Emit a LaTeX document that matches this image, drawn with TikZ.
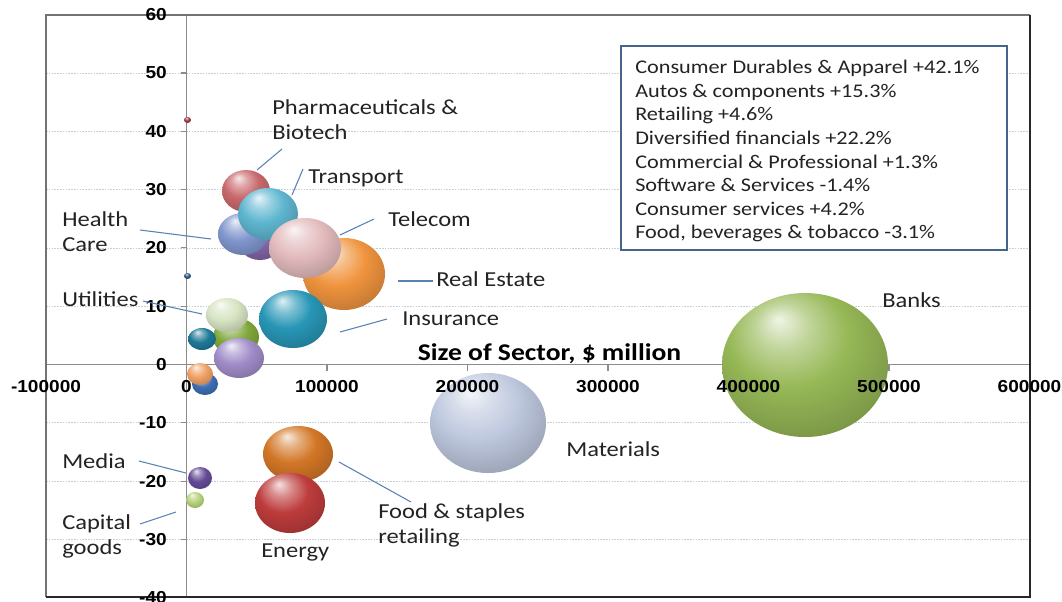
\documentclass[tikz,border=0pt]{standalone}
\usepackage{fontspec}
\usetikzlibrary{shapes.geometric}
\newfontfamily\labfont[FakeStretch=1.15]{Carlito}
\newfontfamily\tickfont[FakeStretch=1.1]{Liberation Sans}
\definecolor{cPharma}{RGB}{200,105,108}
\definecolor{cTransport}{RGB}{95,182,208}
\definecolor{cHealth}{RGB}{128,150,205}
\definecolor{cPurple}{RGB}{128,100,165}
\definecolor{cTelecom}{RGB}{226,186,188}
\definecolor{cReal}{RGB}{240,148,62}
\definecolor{cIns}{RGB}{40,150,182}
\definecolor{cUtil}{RGB}{215,228,195}
\definecolor{cGreen}{RGB}{128,168,58}
\definecolor{cTeal}{RGB}{30,120,150}
\definecolor{cLav}{RGB}{160,140,200}
\definecolor{cOrSm}{RGB}{240,160,100}
\definecolor{cBlSm}{RGB}{60,110,180}
\definecolor{cDotB}{RGB}{40,80,130}
\definecolor{cDotR}{RGB}{150,50,60}
\definecolor{cMedia}{RGB}{100,75,150}
\definecolor{cCap}{RGB}{182,210,122}
\definecolor{cFood}{RGB}{210,118,38}
\definecolor{cEnergy}{RGB}{190,60,60}
\definecolor{cMat}{RGB}{190,200,222}
\definecolor{cBanks}{RGB}{150,184,86}
\definecolor{leader}{RGB}{90,130,180}
\definecolor{legframe}{RGB}{70,100,140}
\definecolor{txt}{RGB}{35,35,35}
\makeatletter
\pgfdeclareradialshading[tikz@ball]{bubble}{\pgfpoint{-8bp}{16bp}}{%
 color(0bp)=(tikz@ball!15!white);
 color(8bp)=(tikz@ball!60!white);
 color(18bp)=(tikz@ball);
 color(32bp)=(tikz@ball!82!black);
 color(44bp)=(tikz@ball!58!black);
 color(50bp)=(tikz@ball!45!black)}
\makeatother
\tikzset{
 bub/.style n args={3}{ellipse, inner sep=0pt, ball color=#1, shading=bubble,
   minimum width=#2*1.5pt, minimum height=#3*1.5pt},
 lab/.style={anchor=north west, inner sep=0pt, align=left, text=txt,
   font=\labfont\fontsize{16}{19.1}\selectfont},
 tick/.style={inner sep=0pt, font=\tickfont\bfseries\fontsize{13}{15}\selectfont},
 lead/.style={draw=leader, line width=0.8pt},
 grid/.style={draw={rgb,255:red,200;green,204;blue,214}, line width=0.6pt, dash pattern=on 1.2pt off 0.9pt},
 axisline/.style={draw={rgb,255:red,140;green,140;blue,140}, line width=0.8pt},
}
\begin{document}
\begin{tikzpicture}[x=0.75pt,y=-0.75pt]
\useasboundingbox (0,0) rectangle (1062,601);
\fill[white] (0,0) rectangle (1062,601);
% grid
\foreach \v in {50,40,30,20,10,-10,-20,-30}
  \draw[grid] (46,{364.5-5.83*\v}) -- (1030,{364.5-5.83*\v});
% axes
\draw[axisline] (186.5,15) -- (186.5,597);
\draw[axisline] (46,364.5) -- (1030,364.5);
\foreach \v in {60,50,...,-40}
  \draw[axisline] (180.5,{364.5-5.83*\v}) -- (186.5,{364.5-5.83*\v});
\foreach \v in {-1,0,...,6}
  \draw[axisline] ({186.5+140.5*\v},364.5) -- ({186.5+140.5*\v},370.5);
% frame
\draw[line width=1.5pt, draw={rgb,255:red,115;green,115;blue,115}] (46,597) -- (46,15) -- (1030,15);
\draw[line width=1.2pt, draw={rgb,255:red,40;green,40;blue,40}] (1030,15) -- (1030,597) -- (46,597);
% bubbles
\node[bub={cBanks}{83}{72}] (banks) at (805,365) {};
\node[bub={cMat}{58}{50}] (materials) at (488,423) {};
\node[bub={cFood}{35}{28}] (food) at (298,454) {};
\node[bub={cEnergy}{35}{30}] (energy) at (290,503) {};
\node[bub={cMedia}{12}{11}] (media) at (200,478) {};
\node[bub={cCap}{9}{8}] (capital) at (195,500) {};
\node[bub={cPharma}{24}{21}] (pharma) at (246,191) {};
\node[bub={cPurple}{22}{19}] (purple) at (260,241) {};
\node[bub={cHealth}{25}{21}] (health) at (243,234) {};
\node[bub={cTransport}{30}{26}] (transport) at (268,214) {};
\node[bub={cReal}{41}{36}] (realestate) at (344,274) {};
\node[bub={cTelecom}{36}{30}] (telecom) at (305,248) {};
\node[bub={cIns}{34}{29}] (insurance) at (293,319) {};
\node[bub={cGreen}{23}{19}] (green) at (236,337) {};
\node[bub={cUtil}{21}{17}] (utilities) at (227,315) {};
\node[bub={cLav}{25}{20}] (lavender) at (239,358) {};
\node[bub={cTeal}{14}{11}] (teal) at (202,339) {};
\node[bub={cBlSm}{13}{11}] (bluesm) at (205,384) {};
\node[bub={cOrSm}{13}{11}] (orangesm) at (200,374) {};
\node[bub={cDotB}{3.5}{3}] (dotb) at (187.5,276) {};
\node[bub={cDotR}{3.5}{3}] (dotr) at (187.5,120) {};
% tick labels
\foreach \v in {60,50,...,-40}
  \node[tick, anchor=east] (yl\v) at (167,{364.5-5.83*\v}) {\v};
\foreach \v/\t in {-1/-100000,0/0,1/100000,2/200000,3/300000,4/400000,5/500000,6/600000}
  \node[tick] (xl\v) at ({186.5+140.5*\v},386.5) {\t};
% axis title
\node[inner sep=0pt, anchor=base, text=black, font=\labfont\bfseries\fontsize{18}{20}\selectfont] (xtitle) at (549.5,360) {Size of Sector, \$ million};
% labels
\node[lab] (lpharma) at (272,99) {Pharmaceuticals \&\\Biotech};
\node[lab] (ltransport) at (308,170) {Transport};
\node[lab] (ltelecom) at (388,211) {Telecom};
\node[lab] (lreal) at (436,271) {Real Estate};
\node[lab] (lins) at (402,312) {Insurance};
\node[lab] (lhealth) at (62,211) {Health\\Care};
\node[lab] (lutil) at (62,291) {Utilities};
\node[lab] (lmedia) at (62,453) {Media};
\node[lab] (lcap) at (62,514) {Capital\\goods};
\node[lab] (lenergy) at (261,544) {Energy};
\node[lab] (lfood) at (378,503) {Food \& staples\\retailing};
\node[lab] (lmat) at (566,441) {Materials};
\node[lab] (lbanks) at (882,292) {Banks};
% leader lines
\coordinate (pA) at (282,149); \coordinate (pB) at (257,170);
\coordinate (tA) at (303,169); \coordinate (tB) at (292,195);
\coordinate (teA) at (374,219); \coordinate (teB) at (340,235);
\coordinate (rA) at (433,281); \coordinate (rB) at (398,281);
\coordinate (iA) at (387,319); \coordinate (iB) at (340,332);
\coordinate (hA) at (140,230); \coordinate (hB) at (211,239);
\coordinate (uA) at (143,301); \coordinate (uB) at (202,314);
\coordinate (mA) at (139,461); \coordinate (mB) at (186,473);
\coordinate (cA) at (140,524); \coordinate (cB) at (176,512);
\coordinate (fA) at (411,502); \coordinate (fB) at (339,462);
\draw[lead] (pA) -- (pB);
\draw[lead] (tA) -- (tB);
\draw[lead] (teA) -- (teB);
\draw[lead] (rA) -- (rB);
\draw[lead] (iA) -- (iB);
\draw[lead] (hA) -- (hB);
\draw[lead] (uA) -- (uB);
\draw[lead] (mA) -- (mB);
\draw[lead] (cA) -- (cB);
\draw[lead] (fA) -- (fB);
% legend
\draw[draw=legframe, line width=1.8pt, fill=white] (621,46) rectangle (1007,250);
\node[anchor=north west, inner sep=0pt, align=left, text=txt,
  font=\labfont\fontsize{14.5}{17.7}\selectfont] (legend) at (635,60) {%
Consumer Durables \& Apparel +42.1\%\\
Autos \& components +15.3\%\\
Retailing +4.6\%\\
Diversified financials +22.2\%\\
Commercial \& Professional +1.3\%\\
Software \& Services -1.4\%\\
Consumer services +4.2\%\\
Food, beverages \& tobacco -3.1\%};
\end{tikzpicture}
\end{document}
